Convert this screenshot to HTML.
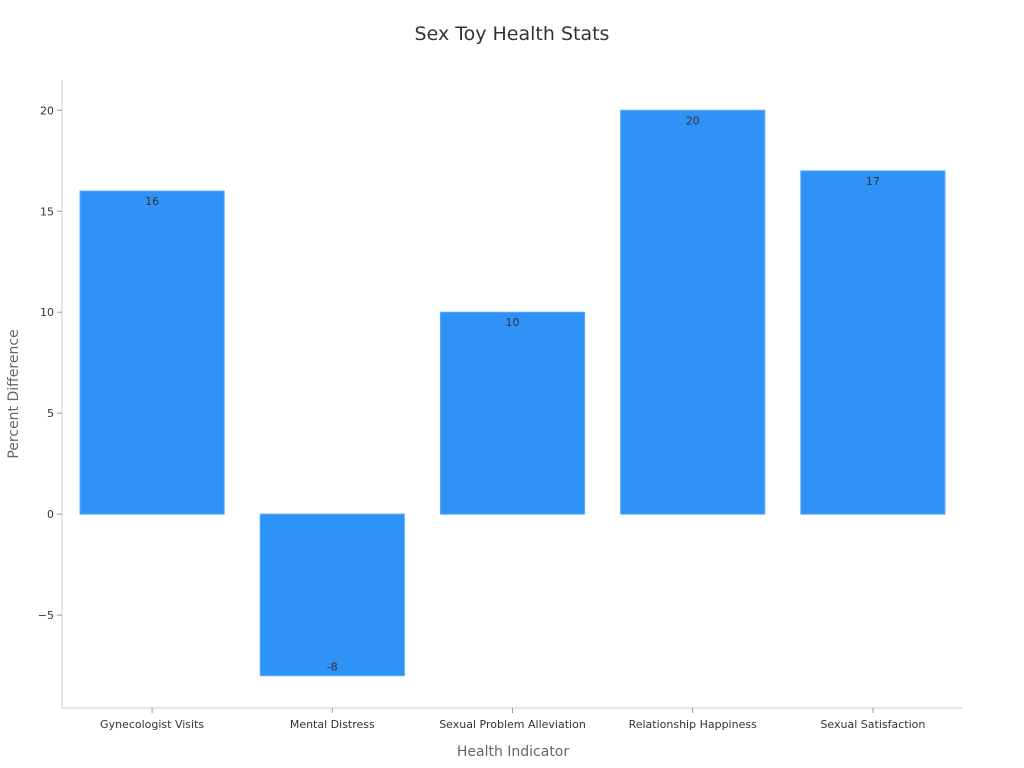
<!DOCTYPE html>
<html><head><meta charset="utf-8"><style>
body{margin:0;background:#fff;}
svg{display:block;font-family:"DejaVu Sans","Liberation Sans",sans-serif;}
</style></head><body>
<svg id="chart" width="1024" height="768" xmlns="http://www.w3.org/2000/svg">
<text x="512" y="40" text-anchor="middle" font-size="19" fill="#333">Sex Toy Health Stats</text>
<text x="513" y="756" text-anchor="middle" font-size="14" fill="#666">Health Indicator</text>
<text transform="translate(18,394) rotate(-90)" text-anchor="middle" font-size="14" fill="#666">Percent Difference</text>
<g id="plot"></g>
</svg>
<script>
const categories = ["Gynecologist Visits","Mental Distress","Sexual Problem Alleviation","Relationship Happiness","Sexual Satisfaction"];
const values = [16,-8,10,20,17];
const yTicks = [-5,0,5,10,15,20];
const yTickLabels = ["\u22125","0","5","10","15","20"];
const NS="http://www.w3.org/2000/svg";
const L=62,R=963,T=80,B=708,yMin=-9.6,yMax=21.5;
const y=v=>B-(v-yMin)/(yMax-yMin)*(B-T);
const band=(R-L)/categories.length;
const x=i=>L+band*(i+0.5);
const bw=band*0.8;
const g=document.getElementById('plot');
function mk(t,a){const e=document.createElementNS(NS,t);for(const k in a)e.setAttribute(k,a[k]);g.appendChild(e);return e;}
let ax=mk('path',{d:`M${L} ${T}V${B}H${R}`,fill:'none',stroke:'#ccc','stroke-width':1});


yTicks.forEach((v,i)=>{
 let tk=mk('line',{x1:L-5,x2:L,y1:y(v),y2:y(v),stroke:'#999'});
 
 
 let t=mk('text',{x:L-8,y:y(v)+4,'text-anchor':'end','font-size':11,fill:'#333'});
 t.textContent=yTickLabels[i];
 
 
});
categories.forEach((c,i)=>{
 const v=values[i];
 let r=mk('rect',{x:x(i)-bw/2,y:Math.min(y(v),y(0)),width:bw,height:Math.abs(y(v)-y(0)),fill:'#2f92f7',stroke:'#5aa9f8','stroke-width':1});
 
 
 let lt=mk('text',{x:x(i),y:v>=0?y(v)+14:y(v)-5,'text-anchor':'middle','font-size':11,fill:'#333'});
 lt.textContent=String(v);
 
 
 let tk=mk('line',{x1:x(i),x2:x(i),y1:B,y2:B+5,stroke:'#999'});
 
 
 let t=mk('text',{x:x(i),y:B+20,'text-anchor':'middle','font-size':11,fill:'#333'});
 t.textContent=c;
 
 
});
</script>
</body></html>
